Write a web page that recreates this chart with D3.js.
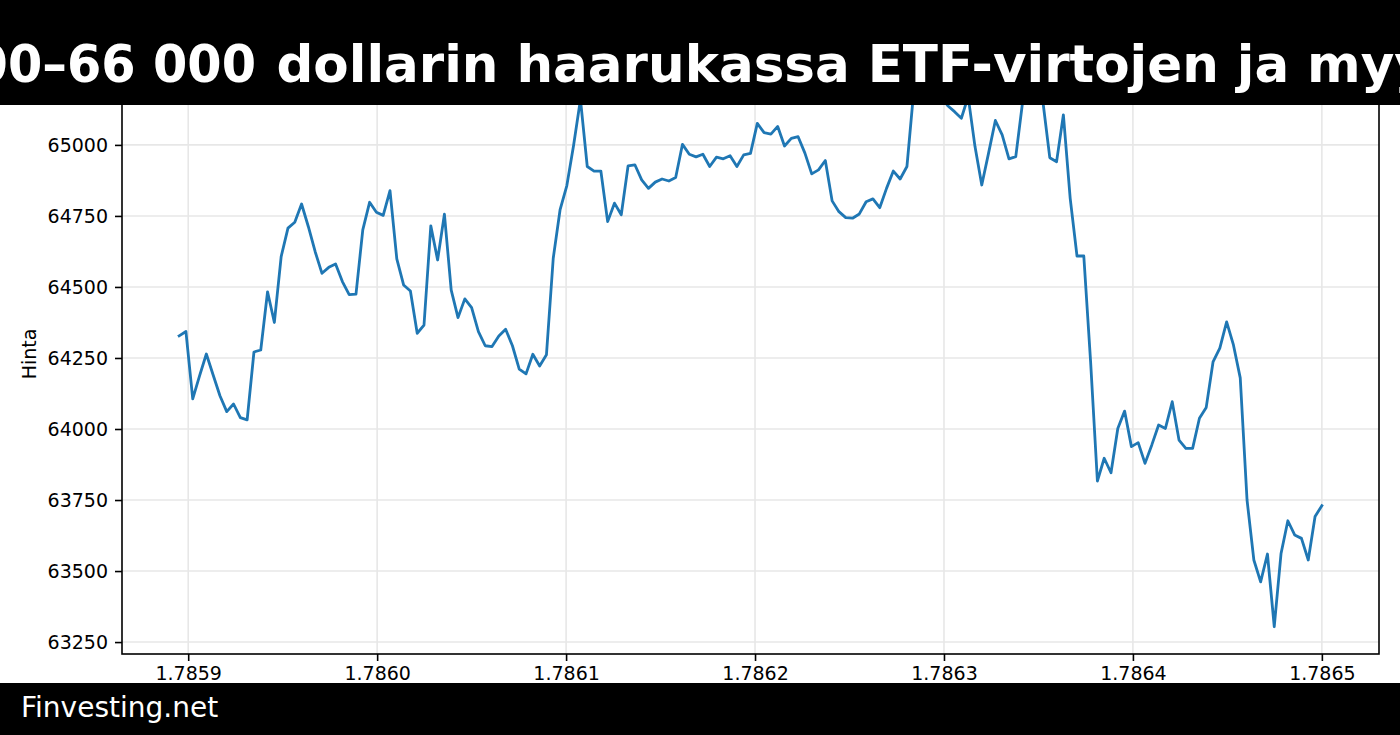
<!DOCTYPE html>
<html>
<head>
<meta charset="utf-8">
<script src="https://cdn.jsdelivr.net/npm/d3@7"></script>
<style>
  html, body { margin: 0; padding: 0; background: #ffffff; }
  svg { display: block; }
  text { font-family: "DejaVu Sans", sans-serif; }
</style>
</head>
<body>
<svg id="chart" width="1400" height="735"></svg>
<script>
// ---- data ----
const titleLead = "Bitcoin 64 000–66 000";
const titleRest = "dollarin haarukassa ETF-virtojen ja myyntipaineen välissä";
const footerText = "Finvesting.net";
const yLabel = "Hinta";
const startTime = 1785895200;   // unix seconds of first hourly point
const stepSeconds = 3600;       // hourly samples
const prices = [
  64328, 64343, 64106, 64187, 64264, 64190, 64117, 64061, 64088, 64040,
  64032, 64271, 64278, 64483, 64375, 64607, 64707, 64728, 64792, 64712,
  64624, 64548, 64569, 64581, 64519, 64473, 64475, 64701, 64798, 64763,
  64752, 64839, 64599, 64507, 64486, 64337, 64366, 64715, 64595, 64756,
  64489, 64392, 64458, 64427, 64343, 64293, 64290, 64327, 64351, 64293,
  64211, 64194, 64263, 64222, 64261, 64601, 64771, 64857, 65000, 65160,
  64924, 64908, 64908, 64730, 64795, 64754, 64926, 64930, 64877, 64847,
  64869, 64880, 64873, 64885, 65002, 64967, 64958, 64967, 64924, 64957,
  64951, 64962, 64924, 64965, 64970, 65076, 65043, 65038, 65065, 64996,
  65023, 65029, 64971, 64898, 64912, 64945, 64803, 64765, 64744, 64742,
  64757, 64800, 64810, 64779, 64847, 64908, 64880, 64924, 65190, 65215,
  65224, 65195, 65170, 65138, 65117, 65094, 65170, 64995, 64859, 64971,
  65086, 65035, 64951, 64959, 65150, 65200, 65210, 65150, 64955, 64941,
  65106, 64812, 64609, 64609, 64237, 63817, 63897, 63846, 64002, 64063,
  63938, 63952, 63879, 63944, 64014, 64002, 64096, 63961, 63932, 63932,
  64038, 64076, 64236, 64285, 64377, 64296, 64180, 63750, 63539, 63462,
  63560, 63304, 63562, 63677, 63627, 63615, 63539, 63692, 63730
];
const xTickValues = [1785900000, 1786000000, 1786100000, 1786200000, 1786300000, 1786400000, 1786500000];
const yTickValues = [63250, 63500, 63750, 64000, 64250, 64500, 64750, 65000];

// ---- layout ----
const W = 1400, H = 735;
const plot = { left: 122, right: 1379, top: 54, bottom: 654 };

const data = prices.map((p, i) => ({ t: startTime + i * stepSeconds, p }));

const svg = d3.select("#chart");
svg.append("rect").attr("width", W).attr("height", H).attr("fill", "#ffffff");

const tExt = d3.extent(data, d => d.t);
const tPad = (tExt[1] - tExt[0]) * 0.05;
const pExt = d3.extent(data, d => d.p);
const pPad = (pExt[1] - pExt[0]) * 0.05;

const x = d3.scaleLinear().domain([tExt[0] - tPad, tExt[1] + tPad]).range([plot.left, plot.right]);
const y = d3.scaleLinear().domain([pExt[0] - pPad, pExt[1] + pPad]).range([plot.bottom, plot.top]);

// grid
const grid = svg.append("g");
grid.selectAll("line.gx").data(xTickValues).join("line")
  .attr("x1", d => x(d)).attr("x2", d => x(d))
  .attr("y1", plot.top).attr("y2", plot.bottom)
  .attr("stroke", "#e7e7e7").attr("stroke-width", 1.6);
grid.selectAll("line.gy").data(yTickValues).join("line")
  .attr("x1", plot.left).attr("x2", plot.right)
  .attr("y1", d => y(d)).attr("y2", d => y(d))
  .attr("stroke", "#e7e7e7").attr("stroke-width", 1.6);

// line
const line = d3.line().x(d => x(d.t)).y(d => y(d.p));
svg.append("path").datum(data)
  .attr("d", line)
  .attr("fill", "none")
  .attr("stroke", "#1f77b4")
  .attr("stroke-width", 2.8)
  .attr("stroke-linejoin", "round")
  .attr("stroke-linecap", "square");

// axes
const xAxis = d3.axisBottom(x).tickValues(xTickValues)
  .tickFormat(d => d3.format(".4f")(d / 1e9)).tickSize(7).tickPadding(6);
const yAxis = d3.axisLeft(y).tickValues(yTickValues)
  .tickFormat(d3.format("d")).tickSize(7).tickPadding(7);

const gx = svg.append("g").attr("transform", `translate(0,${plot.bottom})`).call(xAxis);
const gy = svg.append("g").attr("transform", `translate(${plot.left},0)`).call(yAxis);
[gx, gy].forEach(g => {
  g.select(".domain").remove();
  g.selectAll(".tick line").attr("stroke", "#000").attr("stroke-width", 1.6);
  g.selectAll(".tick text").attr("fill", "#000").style("font-size", "19px")
    .style("font-family", "'DejaVu Sans', sans-serif");
});

// frame (spines)
svg.append("rect")
  .attr("x", plot.left).attr("y", plot.top)
  .attr("width", plot.right - plot.left).attr("height", plot.bottom - plot.top)
  .attr("fill", "none").attr("stroke", "#000").attr("stroke-width", 1.6);

// y label
svg.append("text")
  .attr("transform", `translate(36,${(plot.top + plot.bottom) / 2}) rotate(-90)`)
  .attr("text-anchor", "middle")
  .style("font-size", "19px")
  .attr("fill", "#000")
  .text(yLabel);

// title bar (overlays the chart top)
svg.append("rect").attr("x", 0).attr("y", 0).attr("width", W).attr("height", 105).attr("fill", "#000");
const titleG = svg.append("g").attr("fill", "#fff").style("font-weight", "bold");
titleG.append("text")
  .attr("transform", "translate(256,82) scale(0.95,1)")
  .attr("text-anchor", "end")
  .style("font-size", "52px")
  .text(titleLead);
titleG.append("text")
  .attr("x", 276.5).attr("y", 82)
  .style("font-size", "51.5px")
  .text(titleRest);

// footer bar
svg.append("rect").attr("x", 0).attr("y", 683).attr("width", W).attr("height", H - 683).attr("fill", "#000");
svg.append("text")
  .attr("x", 21).attr("y", 717)
  .attr("fill", "#fff")
  .style("font-size", "28px")
  .text(footerText);
</script>
</body>
</html>
